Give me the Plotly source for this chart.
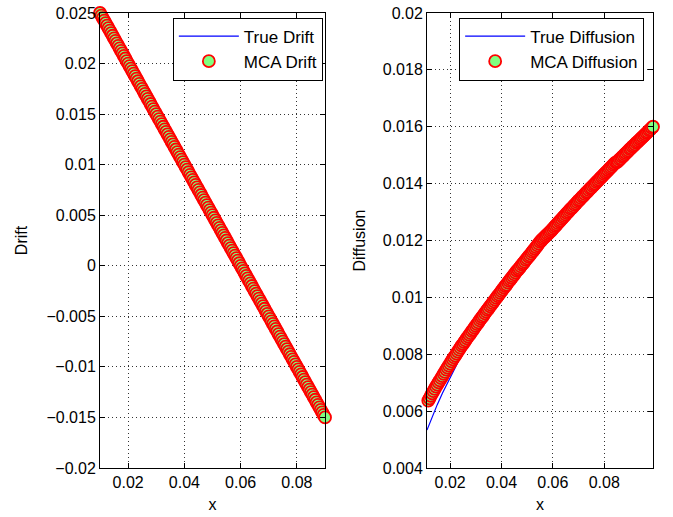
import plotly.graph_objects as go

# ---- Left panel data (Drift) ----
true_drift_x = [0.010, 0.030, 0.050, 0.070, 0.090]
true_drift_y = [0.025, 0.015, 0.005, -0.005, -0.015]

mca_drift_x = [
    0.0100, 0.0105, 0.0110, 0.0115, 0.0120, 0.0125, 0.0130, 0.0135, 0.0140, 0.0145,
    0.0150, 0.0155, 0.0160, 0.0165, 0.0170, 0.0175, 0.0180, 0.0185, 0.0190, 0.0195,
    0.0200, 0.0205, 0.0210, 0.0215, 0.0220, 0.0225, 0.0230, 0.0235, 0.0240, 0.0245,
    0.0250, 0.0255, 0.0260, 0.0265, 0.0270, 0.0275, 0.0280, 0.0285, 0.0290, 0.0295,
    0.0300, 0.0305, 0.0310, 0.0315, 0.0320, 0.0325, 0.0330, 0.0335, 0.0340, 0.0345,
    0.0350, 0.0355, 0.0360, 0.0365, 0.0370, 0.0375, 0.0380, 0.0385, 0.0390, 0.0395,
    0.0400, 0.0405, 0.0410, 0.0415, 0.0420, 0.0425, 0.0430, 0.0435, 0.0440, 0.0445,
    0.0450, 0.0455, 0.0460, 0.0465, 0.0470, 0.0475, 0.0480, 0.0485, 0.0490, 0.0495,
    0.0500, 0.0505, 0.0510, 0.0515, 0.0520, 0.0525, 0.0530, 0.0535, 0.0540, 0.0545,
    0.0550, 0.0555, 0.0560, 0.0565, 0.0570, 0.0575, 0.0580, 0.0585, 0.0590, 0.0595,
    0.0600, 0.0605, 0.0610, 0.0615, 0.0620, 0.0625, 0.0630, 0.0635, 0.0640, 0.0645,
    0.0650, 0.0655, 0.0660, 0.0665, 0.0670, 0.0675, 0.0680, 0.0685, 0.0690, 0.0695,
    0.0700, 0.0705, 0.0710, 0.0715, 0.0720, 0.0725, 0.0730, 0.0735, 0.0740, 0.0745,
    0.0750, 0.0755, 0.0760, 0.0765, 0.0770, 0.0775, 0.0780, 0.0785, 0.0790, 0.0795,
    0.0800, 0.0805, 0.0810, 0.0815, 0.0820, 0.0825, 0.0830, 0.0835, 0.0840, 0.0845,
    0.0850, 0.0855, 0.0860, 0.0865, 0.0870, 0.0875, 0.0880, 0.0885, 0.0890, 0.0895,
    0.0900,
]
mca_drift_y = [
    0.02500, 0.02475, 0.02450, 0.02425, 0.02400, 0.02375, 0.02350, 0.02325, 0.02300, 0.02275,
    0.02250, 0.02225, 0.02200, 0.02175, 0.02150, 0.02125, 0.02100, 0.02075, 0.02050, 0.02025,
    0.02000, 0.01975, 0.01950, 0.01925, 0.01900, 0.01875, 0.01850, 0.01825, 0.01800, 0.01775,
    0.01750, 0.01725, 0.01700, 0.01675, 0.01650, 0.01625, 0.01600, 0.01575, 0.01550, 0.01525,
    0.01500, 0.01475, 0.01450, 0.01425, 0.01400, 0.01375, 0.01350, 0.01325, 0.01300, 0.01275,
    0.01250, 0.01225, 0.01200, 0.01175, 0.01150, 0.01125, 0.01100, 0.01075, 0.01050, 0.01025,
    0.01000, 0.00975, 0.00950, 0.00925, 0.00900, 0.00875, 0.00850, 0.00825, 0.00800, 0.00775,
    0.00750, 0.00725, 0.00700, 0.00675, 0.00650, 0.00625, 0.00600, 0.00575, 0.00550, 0.00525,
    0.00500, 0.00475, 0.00450, 0.00425, 0.00400, 0.00375, 0.00350, 0.00325, 0.00300, 0.00275,
    0.00250, 0.00225, 0.00200, 0.00175, 0.00150, 0.00125, 0.00100, 0.00075, 0.00050, 0.00025,
    0.00000, -0.00025, -0.00050, -0.00075, -0.00100, -0.00125, -0.00150, -0.00175, -0.00200, -0.00225,
    -0.00250, -0.00275, -0.00300, -0.00325, -0.00350, -0.00375, -0.00400, -0.00425, -0.00450, -0.00475,
    -0.00500, -0.00525, -0.00550, -0.00575, -0.00600, -0.00625, -0.00650, -0.00675, -0.00700, -0.00725,
    -0.00750, -0.00775, -0.00800, -0.00825, -0.00850, -0.00875, -0.00900, -0.00925, -0.00950, -0.00975,
    -0.01000, -0.01025, -0.01050, -0.01075, -0.01100, -0.01125, -0.01150, -0.01175, -0.01200, -0.01225,
    -0.01250, -0.01275, -0.01300, -0.01325, -0.01350, -0.01375, -0.01400, -0.01425, -0.01450, -0.01475,
    -0.01500,
]

# ---- Right panel data (Diffusion) ----
true_diff_x = [
    0.011, 0.013, 0.015, 0.017, 0.019, 0.021, 0.023, 0.025, 0.027, 0.029,
    0.031, 0.033, 0.035, 0.037, 0.039, 0.041, 0.043, 0.045, 0.047, 0.049,
    0.051, 0.053, 0.055, 0.057, 0.059, 0.061, 0.063, 0.065, 0.067, 0.069,
    0.071, 0.073, 0.075, 0.077, 0.079, 0.081, 0.083, 0.085, 0.087, 0.089,
    0.091, 0.093, 0.095, 0.097, 0.099,
]
true_diff_y = [
    0.005333, 0.005798, 0.006228, 0.006630, 0.007009, 0.007369, 0.007712, 0.008040, 0.008356, 0.008660,
    0.008953, 0.009238, 0.009513, 0.009781, 0.010042, 0.010296, 0.010545, 0.010787, 0.011024, 0.011256,
    0.011484, 0.011707, 0.011926, 0.012141, 0.012352, 0.012559, 0.012764, 0.012965, 0.013163, 0.013358,
    0.013550, 0.013739, 0.013926, 0.014111, 0.014293, 0.014473, 0.014650, 0.014826, 0.014999, 0.015170,
    0.015340, 0.015507, 0.015673, 0.015837, 0.016000,
]

mca_diff_x = [
    0.0115, 0.0120, 0.0125, 0.0130, 0.0135, 0.0140, 0.0145,
    0.0150, 0.0155, 0.0160, 0.0165, 0.0170, 0.0175, 0.0180, 0.0185, 0.0190, 0.0195,
    0.0200, 0.0205, 0.0210, 0.0215, 0.0220, 0.0225, 0.0230, 0.0235, 0.0240, 0.0245,
    0.0250, 0.0255, 0.0260, 0.0265, 0.0270, 0.0275, 0.0280, 0.0285, 0.0290, 0.0295,
    0.0300, 0.0305, 0.0310, 0.0315, 0.0320, 0.0325, 0.0330, 0.0335, 0.0340, 0.0345,
    0.0350, 0.0355, 0.0360, 0.0365, 0.0370, 0.0375, 0.0380, 0.0385, 0.0390, 0.0395,
    0.0400, 0.0405, 0.0410, 0.0415, 0.0420, 0.0425, 0.0430, 0.0435, 0.0440, 0.0445,
    0.0450, 0.0455, 0.0460, 0.0465, 0.0470, 0.0475, 0.0480, 0.0485, 0.0490, 0.0495,
    0.0500, 0.0505, 0.0510, 0.0515, 0.0520, 0.0525, 0.0530, 0.0535, 0.0540, 0.0545,
    0.0550, 0.0555, 0.0560, 0.0565, 0.0570, 0.0575, 0.0580, 0.0585, 0.0590, 0.0595,
    0.0600, 0.0605, 0.0610, 0.0615, 0.0620, 0.0625, 0.0630, 0.0635, 0.0640, 0.0645,
    0.0650, 0.0655, 0.0660, 0.0665, 0.0670, 0.0675, 0.0680, 0.0685, 0.0690, 0.0695,
    0.0700, 0.0705, 0.0710, 0.0715, 0.0720, 0.0725, 0.0730, 0.0735, 0.0740, 0.0745,
    0.0750, 0.0755, 0.0760, 0.0765, 0.0770, 0.0775, 0.0780, 0.0785, 0.0790, 0.0795,
    0.0800, 0.0805, 0.0810, 0.0815, 0.0820, 0.0825, 0.0830, 0.0835, 0.0840, 0.0845,
    0.0850, 0.0855, 0.0860, 0.0865, 0.0870, 0.0875, 0.0880, 0.0885, 0.0890, 0.0895,
    0.0900, 0.0905, 0.0910, 0.0915, 0.0920, 0.0925, 0.0930, 0.0935, 0.0940, 0.0945,
    0.0950, 0.0955, 0.0960, 0.0965, 0.0970, 0.0975, 0.0980, 0.0985, 0.0990,
]
mca_diff_y = [
    0.00637, 0.00645, 0.00654, 0.00662, 0.00670, 0.00678, 0.00686,
    0.00693, 0.00701, 0.00708, 0.00716, 0.00723, 0.00731, 0.00738, 0.00746, 0.00753, 0.00760,
    0.00767, 0.00775, 0.00782, 0.00789, 0.00795, 0.00802, 0.00809, 0.00816, 0.00823, 0.00830,
    0.00836, 0.00843, 0.00849, 0.00856, 0.00862, 0.00868, 0.00874, 0.00881, 0.00887, 0.00894,
    0.00900, 0.00906, 0.00912, 0.00919, 0.00925, 0.00931, 0.00937, 0.00944, 0.00950, 0.00956,
    0.00961, 0.00968, 0.00974, 0.00980, 0.00986, 0.00992, 0.00998, 0.01004, 0.01010, 0.01016,
    0.01022, 0.01028, 0.01034, 0.01040, 0.01045, 0.01052, 0.01058, 0.01063, 0.01069, 0.01075,
    0.01081, 0.01087, 0.01093, 0.01098, 0.01103, 0.01109, 0.01115, 0.01120, 0.01126, 0.01132,
    0.01137, 0.01143, 0.01148, 0.01154, 0.01160, 0.01165, 0.01171, 0.01177, 0.01183, 0.01189,
    0.01195, 0.01200, 0.01205, 0.01209, 0.01214, 0.01218, 0.01222, 0.01227, 0.01231, 0.01236,
    0.01241, 0.01246, 0.01251, 0.01256, 0.01261, 0.01266, 0.01271, 0.01276, 0.01281, 0.01286,
    0.01291, 0.01296, 0.01301, 0.01306, 0.01311, 0.01315, 0.01320, 0.01325, 0.01330, 0.01335,
    0.01340, 0.01344, 0.01349, 0.01354, 0.01358, 0.01363, 0.01368, 0.01372, 0.01377, 0.01382,
    0.01386, 0.01391, 0.01396, 0.01400, 0.01405, 0.01410, 0.01414, 0.01419, 0.01424, 0.01428,
    0.01433, 0.01438, 0.01442, 0.01447, 0.01452, 0.01456, 0.01461, 0.01466, 0.01470, 0.01475,
    0.01476, 0.01480, 0.01485, 0.01489, 0.01494, 0.01498, 0.01503, 0.01507, 0.01512, 0.01516,
    0.01521, 0.01525, 0.01530, 0.01534, 0.01538, 0.01543, 0.01547, 0.01551, 0.01556, 0.01560,
    0.01564, 0.01569, 0.01573, 0.01578, 0.01582, 0.01587, 0.01591, 0.01596, 0.01600,
]

# ---- Tick labels ----
x_ticks = [0.02, 0.04, 0.06, 0.08]
x_tick_text = ["0.02", "0.04", "0.06", "0.08"]
drift_ticks = [0.025, 0.02, 0.015, 0.01, 0.005, 0, -0.005, -0.01, -0.015, -0.02]
drift_tick_text = ["0.025", "0.02", "0.015", "0.01", "0.005", "0",
                   "\u22120.005", "\u22120.01", "\u22120.015", "\u22120.02"]
diff_ticks = [0.004, 0.006, 0.008, 0.01, 0.012, 0.014, 0.016, 0.018, 0.02]
diff_tick_text = ["0.004", "0.006", "0.008", "0.01", "0.012", "0.014", "0.016", "0.018", "0.02"]

FONT = "Liberation Sans, Arial, Helvetica, sans-serif"
FS = 16
LFS = 17
GREEN = "#80ff80"
MSIZE = 12
MLINE = 1.8

fig = go.Figure()

fig.add_trace(go.Scatter(
    x=true_drift_x, y=true_drift_y, mode="lines", name="True Drift",
    line=dict(color="#0000ff", width=1.2), xaxis="x", yaxis="y", legend="legend",
))
fig.add_trace(go.Scatter(
    x=mca_drift_x, y=mca_drift_y, mode="markers", name="MCA Drift",
    marker=dict(size=MSIZE, color=GREEN, line=dict(color="#ff0000", width=MLINE)),
    cliponaxis=False, xaxis="x", yaxis="y", legend="legend",
))
fig.add_trace(go.Scatter(
    x=true_diff_x, y=true_diff_y, mode="lines", name="True Diffusion",
    line=dict(color="#0000ff", width=1.2), xaxis="x2", yaxis="y2", legend="legend2",
))
fig.add_trace(go.Scatter(
    x=mca_diff_x, y=mca_diff_y, mode="markers", name="MCA Diffusion",
    marker=dict(size=MSIZE, color=GREEN, line=dict(color="#ff0000", width=MLINE)),
    cliponaxis=False, xaxis="x2", yaxis="y2", legend="legend2",
))

axis_common = dict(
    showline=True, linecolor="black", linewidth=1, mirror="ticks",
    ticks="inside", ticklen=5, tickcolor="black", automargin=False,
    ticklabeloverflow="allow",
    showgrid=True, gridcolor="#333333", griddash="1px,3px", gridwidth=1,
    zeroline=False, tickfont=dict(family=FONT, size=FS, color="black"),
    title_font=dict(family=FONT, size=FS, color="black"),
)

L_DOM = [0.0, 0.4069]
R_DOM = [0.5913, 1.0]

fig.update_layout(
    width=673, height=517,
    margin=dict(l=100, r=20, t=13, b=49, autoexpand=False),
    paper_bgcolor="white", plot_bgcolor="white",
    font=dict(family=FONT, size=FS, color="black"),
    hovermode=False,
    xaxis=dict(domain=L_DOM, range=[0.01, 0.09], tickvals=x_ticks, ticktext=x_tick_text,
               title=dict(text="x", standoff=8), anchor="y", **axis_common),
    yaxis=dict(domain=[0, 1], range=[-0.02, 0.025], tickvals=drift_ticks, ticktext=drift_tick_text,
               title=dict(text="Drift", standoff=14), anchor="x", **axis_common),
    xaxis2=dict(domain=R_DOM, range=[0.011, 0.099], tickvals=x_ticks, ticktext=x_tick_text,
                title=dict(text="x", standoff=8), anchor="y2", **axis_common),
    yaxis2=dict(domain=[0, 1], range=[0.004, 0.02], tickvals=diff_ticks, ticktext=diff_tick_text,
                title=dict(text="Diffusion", standoff=13), anchor="x2", **axis_common),
    legend=dict(x=0.403, y=0.99, xanchor="right", yanchor="top", itemwidth=60,
                bgcolor="white", bordercolor="black", borderwidth=1,
                font=dict(family=FONT, size=LFS, color="black"), tracegroupgap=0),
    legend2=dict(x=0.984, y=0.99, xanchor="right", yanchor="top", itemwidth=60,
                 bgcolor="white", bordercolor="black", borderwidth=1,
                 font=dict(family=FONT, size=LFS, color="black"), tracegroupgap=0),
    showlegend=True,
)

fig.write_html("out.html", config={"displayModeBar": False},
               post_script="document.body.style.margin='0px';")
